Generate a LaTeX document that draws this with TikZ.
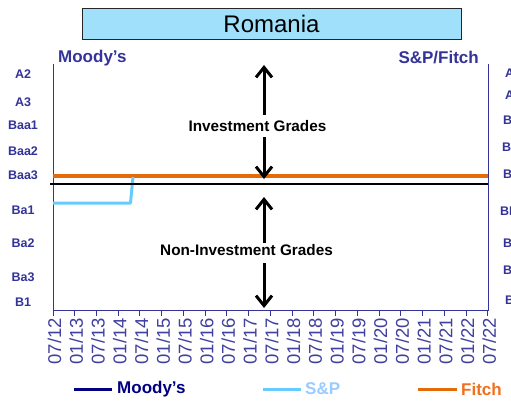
\documentclass[tikz,border=0pt]{standalone}
\usepackage{fontspec}
\setmainfont{Liberation Sans}
\usetikzlibrary{arrows.meta}
\definecolor{axisblue}{RGB}{51,51,153}
\definecolor{ticktxt}{RGB}{64,64,160}
\definecolor{titlefill}{RGB}{160,224,250}
\definecolor{fitchor}{RGB}{227,108,9}
\definecolor{fitchtxt}{RGB}{240,112,32}
\definecolor{spblue}{RGB}{102,204,255}
\definecolor{sptxt}{RGB}{153,204,255}
\definecolor{moodynavy}{RGB}{0,0,128}
\tikzset{
  axisline/.style={draw=axisblue,line width=0.9pt},
  ratinglab/.style={font=\fontsize{12.5}{14}\selectfont\bfseries,text=axisblue,inner sep=0pt},
  ticklab/.style={font=\fontsize{18.5}{20}\selectfont,text=ticktxt,rotate=90,anchor=east,inner sep=0pt},
  agency/.style={font=\fontsize{17}{19}\selectfont\bfseries,text=axisblue,inner sep=0pt},
  gradelab/.style={font=\fontsize{15.3}{17}\selectfont\bfseries,text=black,inner sep=0pt},
  gradearrow/.style={line width=3pt,-{Straight Barb[length=10pt,width=16pt,line width=3pt]}},
  legtxt/.style={font=\fontsize{17}{19}\selectfont\bfseries,inner sep=0pt,anchor=west},
}
\begin{document}
\begin{tikzpicture}[x=1pt,y=-1pt]
\useasboundingbox (0,0) rectangle (511,401);
\clip (0,0) rectangle (511,401);
\fill[white] (0,0) rectangle (511,401);
% title
\node[draw=black!85,line width=0.9pt,fill=titlefill,minimum width=379pt,minimum height=31pt,inner sep=0pt,
      font=\fontsize{24}{26}\selectfont] (title) at (271.5,23.5) {Romania};
% agency headers
\node[agency,anchor=west] (moodyhead) at (58,58) {Moody's};
\node[agency,anchor=east] (sphead) at (479,58) {S\&P/Fitch};
% axes
\coordinate (tl) at (53,64);
\coordinate (bl) at (53,310.5);
\coordinate (tr) at (488,64);
\coordinate (br) at (488,310.5);
\draw[axisline] (tl) -- (bl) -- (br) -- (tr);
% left rating labels
\foreach \t/\y [count=\k] in {A2/74,A3/102,Baa1/125,Baa2/151,Baa3/175,Ba1/210,Ba2/243,Ba3/277,B1/302}
  \node[ratinglab] (ml\k) at (23,\y) {\t};
% right rating labels (cut by the right edge, as in the reference)
\foreach \t/\y/\x [count=\k] in {A/73/505,A-/95/505,BBB+/120/503,BBB/147/502,BBB-/174/503,BB+/211/500,BB/243/503,BB-/270/503,B+/300/505}
  \node[ratinglab,anchor=west] (sl\k) at (\x,\y) {\t};
% ticks and dates
\foreach \d [count=\i from 0] in {07/12,01/13,07/13,01/14,07/14,01/15,07/15,01/16,07/16,01/17,07/17,01/18,07/18,01/19,07/19,01/20,07/20,01/21,07/21,01/22,07/22}{
  \draw[axisline] ({53+\i*21.735},310.5) -- ++(0,5);
  \node[ticklab] (d\i) at ({54.5+\i*21.735},318) {\d};
}
% data lines
\coordinate (mstart) at (53,176);
\coordinate (mend) at (488,176);
\draw[moodynavy,line width=3pt] (mstart) -- (mend);
\coordinate (fstart) at (53,176);
\coordinate (fend) at (488,176);
\draw[fitchor,line width=4pt] (fstart) -- (fend);
\coordinate (s0) at (53,203);
\coordinate (s1) at (130.5,203);
\coordinate (s2) at (133,177);
\draw[spblue,line width=3pt,line join=round] (s0) -- (s1) -- (s2);
% investment boundary
\coordinate (bstart) at (50,184);
\coordinate (bend) at (488,184);
\draw[black,line width=1.5pt] (bstart) -- (bend);
% grade labels and arrows
\node[gradelab] (ig) at (257.5,126) {Investment Grades};
\node[gradelab] (nig) at (246.5,250) {Non-Investment Grades};
\coordinate (a1s) at (264,115);
\coordinate (a1e) at (264,65);
\coordinate (a2s) at (264,137);
\coordinate (a2e) at (264,179);
\coordinate (a3s) at (264,243);
\coordinate (a3e) at (264,197);
\coordinate (a4s) at (264,263);
\coordinate (a4e) at (264,308);
\draw[gradearrow] (a1s) -- (a1e);
\draw[gradearrow] (a2s) -- (a2e);
\draw[gradearrow] (a3s) -- (a3e);
\draw[gradearrow] (a4s) -- (a4e);
% legend
\coordinate (lm0) at (74,389); \coordinate (lm1) at (112,389);
\draw[moodynavy,line width=3pt] (lm0) -- (lm1);
\node[legtxt,text=moodynavy] (lmt) at (117,389) {Moody's};
\coordinate (ls0) at (263,389); \coordinate (ls1) at (301,389);
\draw[spblue,line width=3pt] (ls0) -- (ls1);
\node[legtxt,text=sptxt] (lst) at (305,389) {S\&P};
\coordinate (lf0) at (418,389); \coordinate (lf1) at (457,389);
\draw[fitchor,line width=3pt] (lf0) -- (lf1);
\node[legtxt,text=fitchtxt] (lft) at (461,389) {Fitch};
\end{tikzpicture}
\end{document}
